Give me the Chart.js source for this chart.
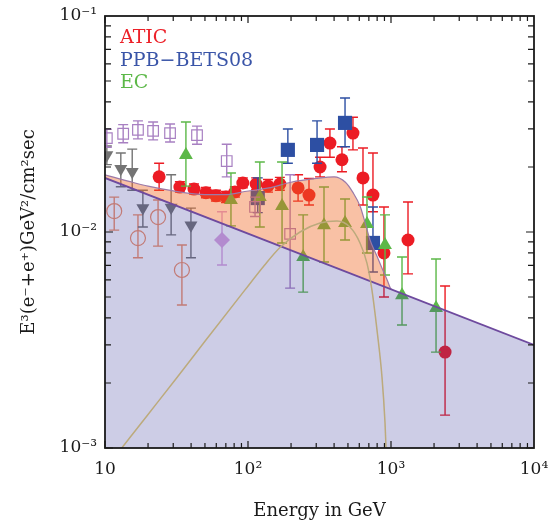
<!DOCTYPE html>
<html>
<head>
<meta charset="utf-8">
<script src="https://cdn.jsdelivr.net/npm/chart.js@4/dist/chart.umd.min.js"></script>
<style>
  html, body { margin: 0; padding: 0; background: #fff; }
  canvas { display: block; }
</style>
</head>
<body>
<canvas id="chart" width="551" height="522"></canvas>
<script>
// axis ticks
const xTicks = [10, 100, 1000, 10000];
const xTickLabels = ['10', '10²', '10³', '10⁴'];
const yTicks = [0.001, 0.01, 0.1];
const yTickLabels = ['10⁻³', '10⁻²', '10⁻¹'];

// ATIC
const aticE = [23.9, 33.4, 41.9, 50.8, 59.7, 70.2, 81, 92, 114, 138, 167, 224, 267, 319, 374, 454, 542, 637, 748, 893, 1315, 2388];
const aticY = [0.0180, 0.01615, 0.0158, 0.0152, 0.0147, 0.01452, 0.01532, 0.01686, 0.01668, 0.01633, 0.01668, 0.0160, 0.01483, 0.0200, 0.0258, 0.0216, 0.0287, 0.0178, 0.01483, 0.0080, 0.00918, 0.00278];
const aticLo = [0.0156, 0.0153, 0.0150, 0.0144, 0.0139, 0.0137, 0.0145, 0.0160, 0.0157, 0.0153, 0.0156, 0.0139, 0.01334, 0.0180, 0.0222, 0.0190, 0.0240, 0.01334, 0.0124, 0.0050, 0.0064, 0.00142];
const aticHi = [0.0208, 0.0171, 0.0167, 0.0161, 0.0156, 0.0154, 0.0162, 0.0178, 0.0178, 0.0175, 0.0179, 0.0184, 0.0177, 0.0222, 0.0300, 0.0248, 0.0340, 0.0245, 0.0232, 0.01306, 0.01377, 0.00562];

// PPB-BETS08
const ppbE = [117, 190, 304, 477, 748];
const ppbY = [0.01436, 0.024, 0.0253, 0.032, 0.0089];
const ppbLo = [0.0123, 0.0208, 0.0208, 0.0248, 0.00653];
const ppbHi = [0.0178, 0.030, 0.0327, 0.0417, 0.01306];

// EC
const ecE = [36.8, 76, 121, 173, 243, 340, 477, 679, 908, 1194, 2065];
const ecY = [0.0227, 0.01406, 0.01452, 0.0132, 0.00766, 0.01076, 0.0110, 0.01089, 0.0087, 0.0051, 0.00445];
const ecLo = [0.0163, 0.01067, 0.01055, 0.0089, 0.00527, 0.00726, 0.00918, 0.0080, 0.00632, 0.00371, 0.00278];
const ecHi = [0.0323, 0.01875, 0.0211, 0.0211, 0.012, 0.01615, 0.01422, 0.01452, 0.012, 0.00766, 0.0075];

// other data (unlabelled)
const sqE = [10.3, 13.4, 17.0, 21.7, 28.5, 44, 71, 112, 197];
const sqY = [0.0272, 0.0285, 0.0297, 0.0294, 0.0287, 0.0281, 0.0213, 0.01306, 0.0098];
const sqLo = [0.0247, 0.0259, 0.0270, 0.0267, 0.0261, 0.0255, 0.0180, 0.0118, 0.0055];
const sqHi = [0.0299, 0.0314, 0.0327, 0.0323, 0.0316, 0.0309, 0.0255, 0.0145, 0.0184];

const triE = [10.3, 12.9, 15.5, 18.4, 29, 39.9];
const triY = [0.0227, 0.0196, 0.0190, 0.0129, 0.0130, 0.01076];
const triLo = [0.0205, 0.0162, 0.0156, 0.01054, 0.0097, 0.0076];
const triHi = [0.0250, 0.0232, 0.0242, 0.0156, 0.0184, 0.0129];

const circE = [11.6, 17.0, 23.5, 34.5];
const circY = [0.0125, 0.00937, 0.01173, 0.00667];
const circLo = [0.0102, 0.0076, 0.0086, 0.00459];
const circHi = [0.0145, 0.0120, 0.01406, 0.0087];

const diaE = [65.8];
const diaY = [0.00918];
const diaLo = [0.00703];
const diaHi = [0.0124];

// model curves
const bgE = [10, 10000];
const bgY = [0.0178, 0.0030];
const totalE = [10, 15, 20, 30, 50, 70, 95, 140, 200, 300, 400, 480, 540, 610, 660, 713, 800, 873, 940, 990, 1010];
const totalY = [0.0184, 0.0171, 0.0163, 0.0155, 0.0149, 0.0149, 0.0154, 0.0160, 0.0170, 0.0177, 0.0180, 0.0170, 0.0153, 0.0131, 0.0110, 0.0092, 0.0077, 0.0067, 0.0060, 0.0055, 0.00541];
const peakE = [13.1, 20, 31, 50, 95, 130, 168, 231, 319, 419, 516, 607, 679, 736, 798, 865, 908, 923];
const peakY = [0.001, 0.00143, 0.00207, 0.00312, 0.00538, 0.0070, 0.0085, 0.0100, 0.0110, 0.01124, 0.01054, 0.0089, 0.00718, 0.00538, 0.00352, 0.00213, 0.00131, 0.001];

const serif = 'DejaVu Serif';

function pts(xs, ys) {
    return xs.map((x, i) => ({ x: x, y: ys[i] }));
}

function markers(label, xs, ys, lo, hi, color, style, radius, filled, rotation) {
    return {
        label: label,
        data: pts(xs, ys),
        errLo: lo,
        errHi: hi,
        pointStyle: style,
        pointRadius: radius,
        rotation: rotation || 0,
        backgroundColor: filled ? color : 'rgba(0,0,0,0)',
        borderColor: color,
        borderWidth: filled ? 0 : 1.2,
        showLine: false,
        clip: 0,
        order: 3
    };
}

// error bars drawn under each marker set
const errorBars = {
    id: 'errorBars',
    beforeDatasetDraw(chart, args) {
        const ds = chart.data.datasets[args.index];
        if (!ds.errLo) return;
        const { ctx, chartArea: a, scales: { x, y } } = chart;
        ctx.save();
        ctx.beginPath();
        ctx.rect(a.left, a.top, a.right - a.left, a.bottom - a.top);
        ctx.clip();
        ctx.strokeStyle = ds.borderColor;
        ctx.lineWidth = 1.4;
        ds.data.forEach((p, i) => {
            const px = x.getPixelForValue(p.x);
            const y1 = y.getPixelForValue(ds.errHi[i]);
            const y2 = y.getPixelForValue(ds.errLo[i]);
            ctx.beginPath();
            ctx.moveTo(px, y1);
            ctx.lineTo(px, y2);
            ctx.moveTo(px - 5, y1);
            ctx.lineTo(px + 5, y1);
            ctx.moveTo(px - 5, y2);
            ctx.lineTo(px + 5, y2);
            ctx.stroke();
        });
        ctx.restore();
    }
};

// inward ticks, frame and in-plot legend
const frame = {
    id: 'frame',
    afterDraw(chart) {
        const { ctx, chartArea: a, scales: { x, y } } = chart;
        ctx.save();
        ctx.strokeStyle = '#1a1a1a';
        ctx.lineWidth = 1.2;
        ctx.beginPath();
        [10, 100, 1000].forEach(d => {
            for (let m = 1; m <= 9; m++) {
                const px = x.getPixelForValue(d * m);
                const len = m === 1 ? 7 : 5;
                ctx.moveTo(px, a.bottom); ctx.lineTo(px, a.bottom - len);
                ctx.moveTo(px, a.top); ctx.lineTo(px, a.top + len);
            }
        });
        [0.001, 0.01].forEach(d => {
            for (let m = 1; m <= 9; m++) {
                const py = y.getPixelForValue(d * m);
                const len = m === 1 ? 8 : 6;
                ctx.moveTo(a.left, py); ctx.lineTo(a.left + len, py);
                ctx.moveTo(a.right, py); ctx.lineTo(a.right - len, py);
            }
        });
        ctx.stroke();
        ctx.lineWidth = 1.8;
        ctx.strokeRect(a.left, a.top, a.right - a.left, a.bottom - a.top);

        ctx.font = '19px "' + serif + '"';
        ctx.textBaseline = 'middle';
        ctx.textAlign = 'left';
        ctx.fillStyle = '#ec2028';
        ctx.fillText('ATIC', a.left + 15, a.top + 22);
        ctx.fillStyle = '#3a55a8';
        ctx.fillText('PPB−BETS08', a.left + 15, a.top + 45);
        ctx.fillStyle = '#5cb848';
        ctx.fillText('EC', a.left + 15, a.top + 67);
        ctx.restore();
    }
};

const datasets = [
    markers('open squares', sqE, sqY, sqLo, sqHi, '#a880c2', 'rect', 7.5, false),
    markers('down triangles', triE, triY, triLo, triHi, '#747474', 'triangle', 7.5, true, 180),
    markers('open circles', circE, circY, circLo, circHi, '#f09068', 'circle', 7.5, false),
    markers('diamond', diaE, diaY, diaLo, diaHi, '#dca6e0', 'rectRot', 8, true),
    markers('EC', ecE, ecY, ecLo, ecHi, '#5cb848', 'triangle', 8, true),
    markers('PPB-BETS08', ppbE, ppbY, ppbLo, ppbHi, '#2d4fa3', 'rect', 10, true),
    markers('ATIC', aticE, aticY, aticLo, aticHi, '#ec1c24', 'circle', 6.5, true),
    {
        label: 'total',
        data: pts(totalE, totalY),
        showLine: true,
        pointRadius: 0,
        borderColor: '#9c7aa8',
        borderWidth: 1.2,
        cubicInterpolationMode: 'monotone',
        backgroundColor: 'rgba(240,100,30,0.4)',
        fill: { target: 8 },
        order: 2
    },
    {
        label: 'background',
        data: pts(bgE, bgY),
        showLine: true,
        pointRadius: 0,
        borderColor: '#6e4a9e',
        borderWidth: 1.8,
        backgroundColor: 'rgba(60,60,160,0.26)',
        fill: 'start',
        order: 1
    },
    {
        label: 'signal',
        data: pts(peakE, peakY),
        showLine: true,
        pointRadius: 0,
        borderColor: '#bcaa7c',
        borderWidth: 1.5,
        cubicInterpolationMode: 'monotone',
        fill: false,
        order: 0
    }
];

new Chart(document.getElementById('chart'), {
    type: 'scatter',
    data: { datasets: datasets },
    plugins: [errorBars, frame],
    options: {
        responsive: false,
        animation: false,
        devicePixelRatio: 1,
        layout: { padding: { left: 0, right: 17, top: 16, bottom: 0 } },
        plugins: {
            legend: { display: false },
            tooltip: { enabled: false }
        },
        scales: {
            x: {
                type: 'logarithmic',
                position: 'bottom',
                min: 10,
                max: 10000,
                grid: { display: false, drawTicks: false },
                border: { display: false },
                afterBuildTicks: s => { s.ticks = xTicks.map(v => ({ value: v })); },
                afterFit: s => { s.height = 74; s.paddingLeft = 0; s.paddingRight = 0; },
                ticks: {
                    autoSkip: false,
                    maxRotation: 0,
                    padding: 11,
                    color: '#1a1a1a',
                    font: { family: serif, size: 17 },
                    callback: v => xTickLabels[xTicks.indexOf(v)]
                },
                title: {
                    display: true,
                    text: 'Energy in GeV',
                    color: '#1a1a1a',
                    font: { family: serif, size: 18 },
                    padding: { top: 0, bottom: 0 }
                }
            },
            y: {
                type: 'logarithmic',
                position: 'left',
                min: 0.001,
                max: 0.1,
                grid: { display: false, drawTicks: false },
                border: { display: false },
                afterBuildTicks: s => { s.ticks = yTicks.map(v => ({ value: v })); },
                afterFit: s => { s.width = 105; s.paddingTop = 0; s.paddingBottom = 0; },
                ticks: {
                    autoSkip: false,
                    padding: 8,
                    color: '#1a1a1a',
                    font: { family: serif, size: 17 },
                    callback: v => yTickLabels[yTicks.indexOf(v)]
                },
                title: {
                    display: true,
                    text: 'E³(e⁻+e⁺)GeV²/cm²sec',
                    color: '#1a1a1a',
                    font: { family: serif, size: 18 },
                    padding: { top: 19, bottom: 0 }
                }
            }
        }
    }
});
</script>
</body>
</html>
